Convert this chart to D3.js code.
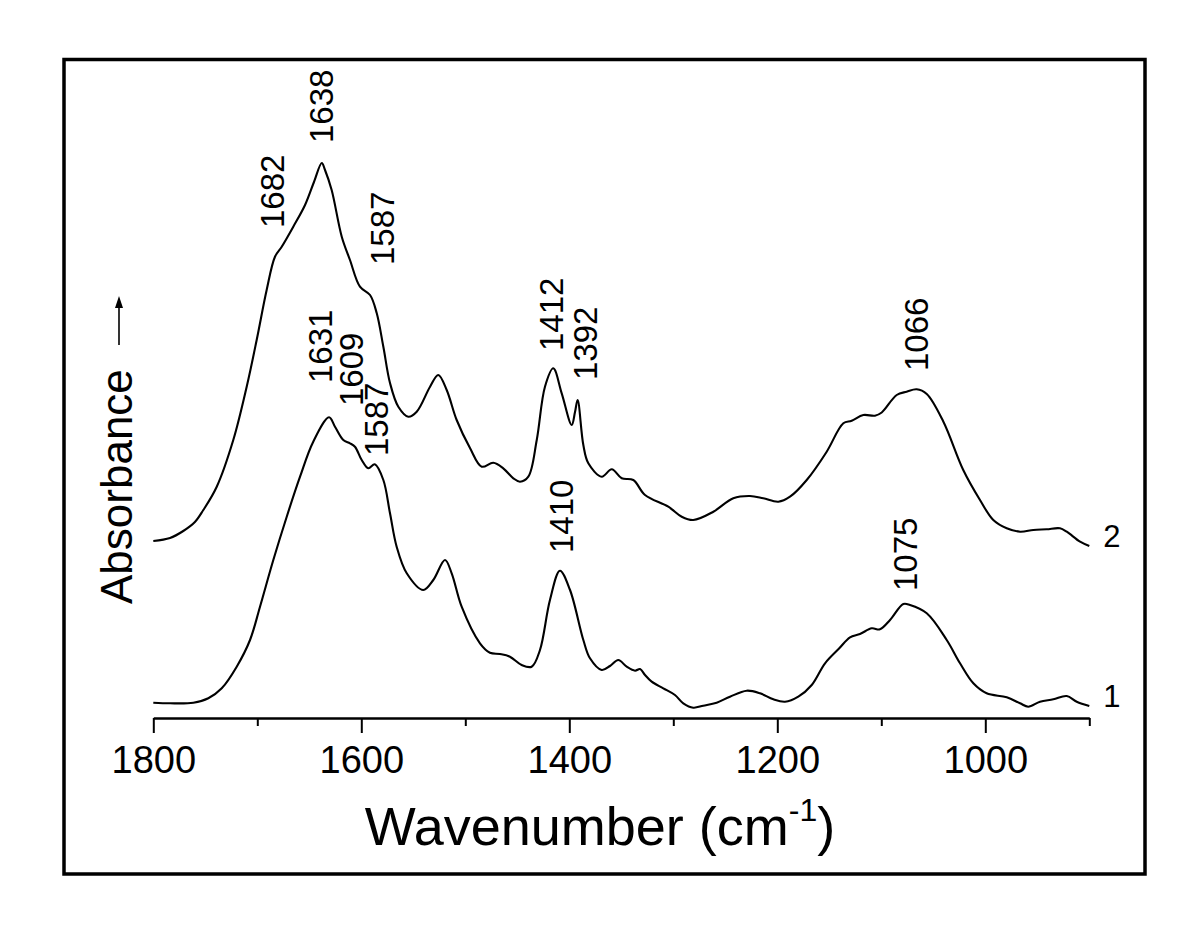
<!DOCTYPE html>
<html>
<head>
<meta charset="utf-8">
<script src="https://cdn.jsdelivr.net/npm/d3@7"></script>
<style>
	body { margin: 0; background: #fff; }
	svg { display: block; font-family: "Liberation Sans", Arial, sans-serif; }
</style>
</head>
<body>
<svg width="1200" height="932"></svg>
<script>
(function() {
	"use strict"

	// spectrum 1 (lower trace), [wavenumber, absorbance]
	var spectrum1 = [
		[1800, 0.153], [1783.9, 0.147], [1761.5, 0.153], [1747.1, 0.197], [1734.2, 0.297],
		[1719.8, 0.513], [1707.0, 0.78], [1697.4, 1.113], [1684.6, 1.58], [1671.7, 2.013],
		[1658.9, 2.413], [1646.2, 2.763], [1631, 3.007], [1625.3, 2.913], [1617.3, 2.78],
		[1610.9, 2.747], [1606.1, 2.713], [1599.6, 2.58], [1593.3, 2.497], [1587, 2.537],
		[1578.8, 2.38], [1572.4, 2.047], [1566.0, 1.713], [1556.3, 1.447], [1540.4, 1.28],
		[1530.8, 1.38], [1519.5, 1.58], [1513.1, 1.447], [1503.5, 1.113], [1485.9, 0.747],
		[1476.3, 0.653], [1466.7, 0.64], [1457.1, 0.613], [1445.8, 0.53], [1436.2, 0.513],
		[1428.2, 0.68], [1418.6, 1.18], [1409, 1.473], [1399.3, 1.28], [1386.5, 0.78],
		[1380.1, 0.597], [1368.8, 0.48], [1360.9, 0.52], [1352.9, 0.58], [1344.8, 0.513],
		[1336.8, 0.473], [1332.0, 0.49], [1327.2, 0.43], [1320.8, 0.363], [1309.6, 0.297],
		[1298.4, 0.23], [1290.4, 0.147], [1280.8, 0.103], [1271.2, 0.123], [1258.3, 0.153],
		[1245.5, 0.213], [1229.4, 0.273], [1216.6, 0.247], [1203.8, 0.187], [1192.6, 0.163],
		[1179.8, 0.213], [1166.9, 0.33], [1154.1, 0.547], [1140.4, 0.697], [1130.1, 0.807],
		[1120.5, 0.84], [1109.2, 0.897], [1101.3, 0.887], [1091.6, 0.98], [1078.8, 1.14],
		[1072.4, 1.13], [1056.3, 1.047], [1037.1, 0.78], [1024.3, 0.547], [1011.5, 0.347],
		[998.7, 0.247], [979.4, 0.207], [966.6, 0.147], [958.7, 0.113], [947.4, 0.163],
		[934.6, 0.187], [921.7, 0.22], [912.1, 0.163], [900, 0.12]
	];

	// spectrum 2 (upper trace)
	var spectrum2 = [
		[1800, 1.77], [1783.9, 1.80], [1771.2, 1.87], [1760.0, 1.96], [1751.9, 2.08],
		[1739.0, 2.313], [1723.1, 2.78], [1710.2, 3.313], [1700.6, 3.78], [1691.0, 4.28],
		[1683.0, 4.613], [1676.5, 4.713], [1665.4, 4.913], [1654.1, 5.13], [1645.5, 5.36],
		[1638, 5.55], [1634.9, 5.48], [1628.5, 5.28], [1618.8, 4.813], [1610.9, 4.58],
		[1601.3, 4.313], [1591.6, 4.23], [1585.2, 4.05], [1578.8, 3.713], [1572.4, 3.35],
		[1564.4, 3.113], [1554.8, 3.013], [1546.7, 3.063], [1533.9, 3.313], [1526.0, 3.43],
		[1517.9, 3.28], [1508.3, 2.98], [1495.5, 2.70], [1484.2, 2.513], [1473.1, 2.553],
		[1463.5, 2.497], [1453.8, 2.397], [1447.4, 2.363], [1439.4, 2.413], [1431.3, 2.78],
		[1423.4, 3.313], [1415.4, 3.497], [1407.3, 3.247], [1397.7, 2.93], [1394.5, 3.06],
		[1392, 3.18], [1386.5, 2.73], [1381.7, 2.547], [1368.8, 2.413], [1359.2, 2.487],
		[1349.6, 2.397], [1338.5, 2.38], [1327.2, 2.23], [1304.8, 2.113], [1291.9, 2.013],
		[1280.8, 1.98], [1261.5, 2.063], [1242.3, 2.197], [1226.3, 2.22], [1213.5, 2.197],
		[1199.0, 2.163], [1187.8, 2.213], [1171.7, 2.38], [1152.5, 2.663], [1136.5, 2.947],
		[1128.5, 2.973], [1117.3, 3.03], [1106.1, 3.023], [1099.6, 3.055], [1085.2, 3.23],
		[1075.6, 3.263], [1066, 3.287], [1056.3, 3.24], [1040.4, 2.965], [1021.2, 2.48],
		[1005.1, 2.18], [992.3, 1.98], [979.4, 1.897], [966.6, 1.863], [953.8, 1.88],
		[941.0, 1.887], [928.2, 1.897], [921.7, 1.863], [908.9, 1.763], [900, 1.72]
	];

	// peak annotations: label, wavenumber, absorbance level of the label's lower end
	var peakLabels = ["1638", "1682", "1587", "1631", "1609", "1587", "1412", "1392", "1410", "1066", "1075"],
		peakWn = [1638, 1682, 1587, 1631, 1609, 1587, 1412, 1392, 1410, 1066, 1075],
		peakLevel = [5.78, 4.93, 4.56, 3.38, 3.15, 2.65, 3.70, 3.41, 1.68, 3.50, 1.30],
		peakShift = [0, -4, 8, -9, -1, 2, -5, 8, 3, 0, -2];

	var majorTicks = [1800, 1600, 1400, 1200, 1000],
		minorTicks = [1700, 1500, 1300, 1100, 900],
		traces = [{ name: "1", data: spectrum1 }, { name: "2", data: spectrum2 }];

	var svg = d3.select("svg"),
		x = d3.scaleLinear().domain([1800, 900]).range([153.3, 1089.3]),
		y = d3.scaleLinear().domain([0, 6]).range([718, 118]),
		line = d3.line()
			.x(function(d) { return x(d[0]); })
			.y(function(d) { return y(d[1]); })
			.curve(d3.curveCatmullRom.alpha(0.5));

	// frame
	svg.append("rect")
		.attr("x", 64)
		.attr("y", 59.5)
		.attr("width", 1081)
		.attr("height", 814.5)
		.attr("fill", "none")
		.attr("stroke", "#000")
		.attr("stroke-width", 3.5);

	// bottom axis, major ticks with labels
	var axisG = svg.append("g")
		.attr("transform", "translate(0," + y(0) + ")")
		.call(d3.axisBottom(x)
			.tickValues(majorTicks)
			.tickFormat(d3.format("d"))
			.tickSize(15)
			.tickSizeOuter(0)
			.tickPadding(13));
	axisG.select(".domain").attr("stroke-width", 2.6);
	axisG.selectAll(".tick line").attr("stroke-width", 2);
	axisG.selectAll(".tick text")
		.attr("font-family", "Liberation Sans, Arial, sans-serif")
		.attr("font-size", 38)
		.attr("fill", "#000");

	// minor ticks
	var minorG = svg.append("g")
		.attr("transform", "translate(0," + y(0) + ")")
		.call(d3.axisBottom(x)
			.tickValues(minorTicks)
			.tickFormat("")
			.tickSize(8)
			.tickSizeOuter(0));
	minorG.select(".domain").remove();
	minorG.selectAll(".tick line").attr("stroke-width", 2);

	// x title
	var title = svg.append("text")
		.attr("x", 600)
		.attr("y", 845)
		.attr("text-anchor", "middle")
		.attr("font-size", 54)
		.text("Wavenumber (cm");
	title.append("tspan")
		.attr("font-size", 32)
		.attr("dy", -24)
		.text("-1");
	title.append("tspan")
		.attr("dy", 24)
		.text(")");

	// y title with arrow
	svg.append("text")
		.attr("transform", "translate(132,604) rotate(-90)")
		.attr("font-size", 44)
		.text("Absorbance");
	svg.append("line")
		.attr("x1", 119)
		.attr("y1", 345)
		.attr("x2", 119)
		.attr("y2", 305)
		.attr("stroke", "#000")
		.attr("stroke-width", 1.6);
	svg.append("path")
		.attr("d", "M119,296 L115,308 L123,308 Z")
		.attr("fill", "#000");

	// traces
	svg.selectAll("path.trace")
		.data(traces)
		.enter()
		.append("path")
			.attr("class", "trace")
			.attr("d", function(d) { return line(d.data); })
			.attr("fill", "none")
			.attr("stroke", "#000")
			.attr("stroke-width", 2.1);

	svg.selectAll("text.trace-name")
		.data(traces)
		.enter()
		.append("text")
			.attr("class", "trace-name")
			.attr("x", x(900) + 14)
			.attr("y", function(d) { return y(d.data[d.data.length - 1][1]) + 1; })
			.attr("font-size", 31)
			.text(function(d) { return d.name; });

	// peak labels
	svg.selectAll("text.peak")
		.data(peakLabels)
		.enter()
		.append("text")
			.attr("class", "peak")
			.attr("transform", function(d, i) {
				return "translate(" + (x(peakWn[i]) + peakShift[i]) + "," + (y(peakLevel[i]) + 3) + ") rotate(-90)";
			})
			.attr("dy", "0.35em")
			.attr("font-size", 33)
			.text(function(d) { return d; });
})();
</script>
</body>
</html>
